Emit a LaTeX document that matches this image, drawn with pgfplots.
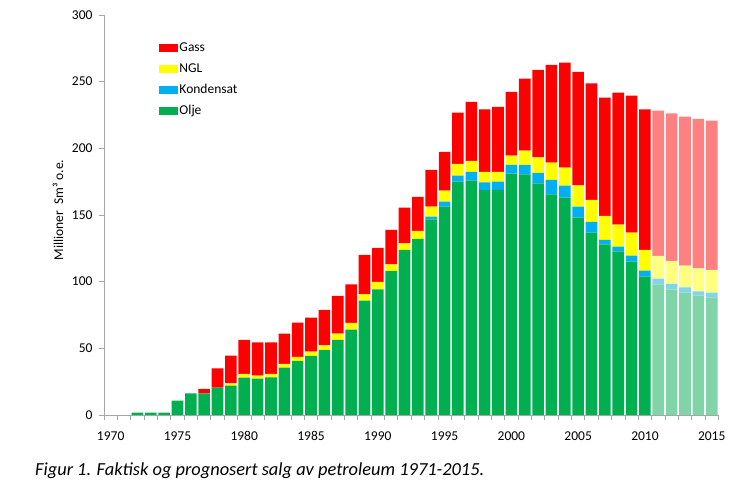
\documentclass[border=0pt]{standalone}
\usepackage{fontspec}
\setmainfont{Carlito}
\usepackage{pgfplots}
\usepackage{pgfplotstable}
\pgfplotsset{compat=1.18}
\definecolor{cgas}{HTML}{FF0000}
\definecolor{cngl}{HTML}{FFFF00}
\definecolor{ccond}{HTML}{00B0F0}
\definecolor{coil}{HTML}{00B050}
\definecolor{cgasF}{HTML}{FF8080}
\definecolor{cnglF}{HTML}{FFFF80}
\definecolor{ccondF}{HTML}{80D4F0}
\definecolor{coilF}{HTML}{80D4A8}
\definecolor{axisgray}{HTML}{A6A6A6}

\pgfplotstableread{
year oil oilF cond condF ngl nglF gas gasF
1970 0 0 0 0 0 0 0 0
1971 0 0 0 0 0 0 0 0
1972 1.75 0 0 0 0 0 0 0
1973 1.75 0 0 0 0 0 0 0
1974 1.75 0 0 0 0 0 0 0
1975 10.75 0 0 0 0 0 0 0
1976 16.25 0 0 0 0 0 0 0
1977 16.25 0 0 0 0 0 3.25 0
1978 20.5 0 0 0 0 0 14.5 0
1979 22 0 0 0 1.75 0 20.75 0
1980 28 0 0 0 2.75 0 25.5 0
1981 27.25 0 0 0 2.25 0 25 0
1982 28.25 0 0 0 2.5 0 23.75 0
1983 35.5 0 0 0 2.75 0 22.75 0
1984 40.5 0 0 0 3 0 25.75 0
1985 44.25 0 0 0 3.25 0 25.5 0
1986 48.75 0 0 0 3.5 0 26.5 0
1987 56.25 0 0 0 4.75 0 28.25 0
1988 64 0 0 0 5 0 29 0
1989 85.75 0 0 0 4.75 0 29.5 0
1990 94.25 0 0 0 5.5 0 25.5 0
1991 108.1 0 0 0 4.9 0 25.75 0
1992 123.75 0 0 0 5 0 26.75 0
1993 132 0 0 0 6 0 25.5 0
1994 146.75 0 2 0 7.5 0 27.5 0
1995 156.25 0 3.75 0 8.25 0 29 0
1996 175 0 4.5 0 8.75 0 38.5 0
1997 175.75 0 6.5 0 8.25 0 44.25 0
1998 168.75 0 5.75 0 7.75 0 47 0
1999 168.75 0 6.25 0 7.25 0 48.75 0
2000 181 0 6.5 0 7 0 47.75 0
2001 180.5 0 7 0 10.75 0 54 0
2002 173.75 0 7.75 0 11.75 0 65.5 0
2003 165.5 0 10.75 0 13 0 73.25 0
2004 163 0 9 0 13.5 0 78.75 0
2005 148 0 8.25 0 16 0 85 0
2006 136.75 0 8 0 16.5 0 87.5 0
2007 128 0 3.25 0 18 0 88.75 0
2008 122.75 0 3.5 0 16.5 0 99 0
2009 115 0 4.5 0 17.25 0 102.75 0
2010 103.75 0 4.5 0 15.5 0 105.5 0
2011 0 98 0 4.25 0 17 0 109
2012 0 94.25 0 4 0 17.25 0 110.75
2013 0 91.75 0 4 0 16.25 0 111.75
2014 0 89.5 0 3.25 0 17.25 0 112
2015 0 88.25 0 3.5 0 17 0 112
}\data

\newcommand{\lblfont}{\fontsize{13.5bp}{16bp}\selectfont}

\begin{document}
\begin{tikzpicture}
\path[use as bounding box] (0,0) rectangle (749bp,493bp);
\begin{axis}[
  at={(104bp,78bp)}, anchor=south west,
  scale only axis, width=614.4bp, height=400bp,
  xmin=1969.5, xmax=2015.5, ymin=0, ymax=300,
  enlargelimits=false,
  ybar stacked, bar width=11.6bp,
  axis lines=left,
  axis line style={-, draw=axisgray, line width=0.8bp},
  tick style={draw=axisgray, line width=0.8bp},
  tick align=outside,
  major tick length=5bp, minor tick length=5bp,
  xtick={1970,1975,...,2015},
  major x tick style={draw=none},
  minor xtick={1969.5,1970.5,...,2015.5},
  ytick={0,50,...,300},
  xticklabel style={font=\lblfont, yshift=-8bp},
  yticklabel style={font=\lblfont, xshift=-3bp},
  /pgf/number format/assume math mode=true,
  /pgf/number format/1000 sep={},
  ylabel={Millioner\ \ Sm³ o.e.},
  ylabel style={font=\lblfont, at={(rel axis cs:-0.0749,0.5125)}, anchor=center},
  legend entries={Olje,,Kondensat,,NGL,,Gass,},
  reverse legend,
  legend image code/.code={\fill[#1] (0bp,-4bp) rectangle (19bp,4bp);},
  legend style={draw=none, fill=none, inner sep=0pt, outer sep=0pt,
    at={(rel axis cs:0.0895,0.932)}, anchor=north west,
    font=\lblfont, row sep=9bp,
    nodes={inner sep=0pt, text height=9.5bp, text depth=2.5bp, anchor=west},
    /tikz/every odd column/.style={column sep=1.5bp}},
  legend cell align=left,
]
\addplot[fill=coil, draw=none] table[x=year, y=oil] {\data};
\addplot[fill=coilF, draw=none] table[x=year, y=oilF] {\data};
\addplot[fill=ccond, draw=none] table[x=year, y=cond] {\data};
\addplot[fill=ccondF, draw=none] table[x=year, y=condF] {\data};
\addplot[fill=cngl, draw=none] table[x=year, y=ngl] {\data};
\addplot[fill=cnglF, draw=none] table[x=year, y=nglF] {\data};
\addplot[fill=cgas, draw=none] table[x=year, y=gas] {\data};
\addplot[fill=cgasF, draw=none] table[x=year, y=gasF] {\data};
\end{axis}
\node[anchor=base west, inner sep=0pt, font=\fontsize{18.4bp}{22bp}\selectfont\itshape] at (35bp,18bp) {Figur 1. Faktisk og prognosert salg av petroleum 1971-2015.};
\end{tikzpicture}
\end{document}
